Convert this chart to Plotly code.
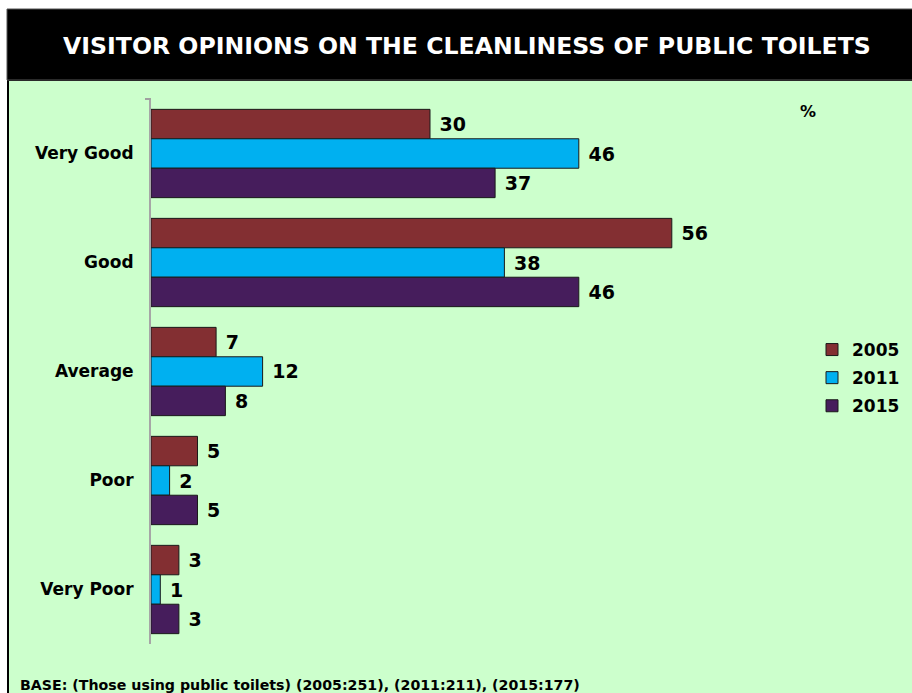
import plotly.graph_objects as go

categories = ["Very Good", "Good", "Average", "Poor", "Very Poor"]
years = ["2005", "2011", "2015"]
v2005 = [30, 56, 7, 5, 3]
v2011 = [46, 38, 12, 2, 1]
v2015 = [37, 46, 8, 5, 3]
colors = ["#832F32", "#00B0F0", "#461D5C"]

W, H = 912, 693
L, R, T, B = 151, 0, 99, 49
PW, PH = W - L - R, H - T - B
XMAX = PW / 9.30

def px(x):
    return (x - L) / PW

def py(y):
    return (H - B - y) / PH

FONT = "DejaVu Sans"

fig = go.Figure()
for name, vals, col in zip(years, [v2005, v2011, v2015], colors):
    fig.add_trace(go.Bar(
        y=categories, x=vals, name=name, orientation="h", legendgroup=name,
        marker=dict(color=col, line=dict(color="#1a1a1a", width=1)),
        text=vals, texttemplate=" %{x}", textposition="outside",
        textfont=dict(family=FONT, size=19, color="black", weight="bold"),
        constraintext="none", cliponaxis=False,
    ))

shapes = [
    dict(type="rect", xref="paper", yref="paper", x0=px(8), x1=px(925), y0=py(80), y1=py(705),
         fillcolor="#CCFFCC", line=dict(color="black", width=2), layer="below"),
    dict(type="rect", xref="paper", yref="paper", x0=px(7), x1=px(925), y0=py(80), y1=py(9),
         fillcolor="black", line=dict(color="#555555", width=1), layer="below"),
    dict(type="line", xref="paper", yref="paper", x0=px(145), x1=px(151), y0=py(99), y1=py(99),
         line=dict(color="#A0A0A0", width=2)),
]

annotations = [
    dict(text="VISITOR OPINIONS ON THE CLEANLINESS OF PUBLIC TOILETS", xref="paper", yref="paper",
         x=px(467), y=py(46), xanchor="center", yanchor="middle", showarrow=False,
         font=dict(family=FONT, size=23.6, color="white", weight="bold")),
    dict(text="%", xref="paper", yref="paper", x=px(808), y=py(111), xanchor="center", yanchor="middle",
         showarrow=False, font=dict(family=FONT, size=16, color="black", weight="bold")),
    dict(text="BASE: (Those using public toilets) (2005:251), (2011:211), (2015:177)", xref="paper",
         yref="paper", x=px(18), y=py(685), xanchor="left", yanchor="middle", showarrow=False,
         font=dict(family=FONT, size=14.2, color="black", weight="bold")),
]

fig.update_layout(
    width=W, height=H,
    margin=dict(l=L, r=R, t=T, b=B),
    paper_bgcolor="white", plot_bgcolor="rgba(0,0,0,0)",
    barmode="group", bargap=0.19, bargroupgap=0,
    showlegend=True,
    legend=dict(x=px(812), y=py(332), xanchor="left", yanchor="top",
                font=dict(family=FONT, size=17, color="black", weight="bold"),
                bgcolor="rgba(0,0,0,0)", itemwidth=30, traceorder="grouped", tracegroupgap=3),
    xaxis=dict(range=[0, XMAX], visible=False, showgrid=False, zeroline=False),
    yaxis=dict(autorange="reversed", showline=True, linecolor="#A6A6A6", linewidth=2,
               showgrid=False, zeroline=False, ticks="", ticklabelstandoff=12,
               tickfont=dict(family=FONT, size=17, color="black", weight="bold")),
    shapes=shapes, annotations=annotations,
)

fig.write_html("out.html")
